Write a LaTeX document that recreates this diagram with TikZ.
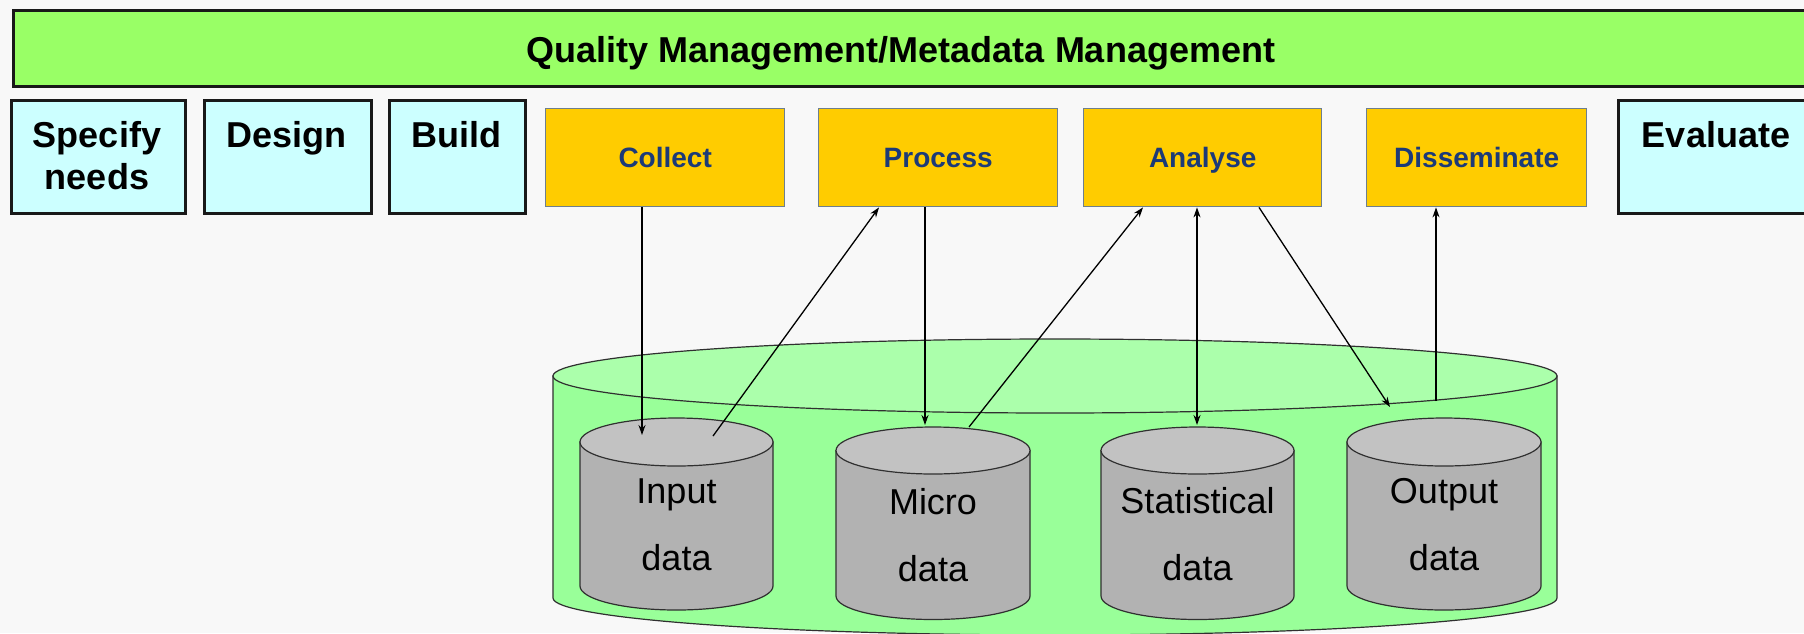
\documentclass[tikz,border=0pt]{standalone}
\usepackage{fontspec}
\setmainfont{Liberation Sans}
\usetikzlibrary{arrows.meta,calc}

\definecolor{pagebg}{HTML}{F8F8F8}
\definecolor{qmgreen}{HTML}{99FF66}
\definecolor{phasecyan}{HTML}{CCFFFF}
\definecolor{phaseyellow}{HTML}{FFCC00}
\definecolor{phaseframe}{HTML}{6E7F8E}
\definecolor{phasetext}{HTML}{1C3A78}
\definecolor{storeside}{HTML}{99FF99}
\definecolor{storetop}{HTML}{ABFFAB}
\definecolor{drumside}{HTML}{B2B2B2}
\definecolor{drumtop}{HTML}{C2C2C2}
\definecolor{drumline}{HTML}{303030}

\tikzset{
  cyanbox/.style={draw=black!90, line width=2.7pt, fill=phasecyan,
    anchor=north west, inner sep=0pt},
  yellowbox/.style={draw=phaseframe, line width=1.4pt, fill=phaseyellow,
    anchor=north west, inner sep=0pt, text=phasetext, text depth=0pt,
    font=\bfseries\fontsize{28}{33}\selectfont},
  boldlabel/.style={inner sep=0pt, align=center,
    font=\bfseries\fontsize{36}{42}\selectfont},
  drumlabel/.style={inner sep=0pt, align=center, anchor=north,
    font=\fontsize{36}{67}\selectfont},
  flow/.style={line width=1.3pt, -{Stealth[length=10pt,width=7pt]}},
  flowboth/.style={line width=1.3pt, {Stealth[length=10pt,width=7pt]}-{Stealth[length=10pt,width=7pt]}},
}

% a drum: centre x, top centre y, bottom centre y, x radius, y radius, side colour, top colour, line width
\newcommand\drawdrum[8]{%
  \filldraw[fill=#6, draw=drumline, line width=#8]
    (#1-#4,#2) -- (#1-#4,#3)
    arc[start angle=180, end angle=0, x radius=#4, y radius=#5]
    -- (#1+#4,#2) -- cycle;
  \filldraw[fill=#7, draw=drumline, line width=#8]
    (#1,#2) ellipse[x radius=#4, y radius=#5];
}

\begin{document}
\begin{tikzpicture}[x=1pt, y=-1pt]
  \useasboundingbox (0,0) rectangle (1804,633);
  \fill[pagebg] (0,0) rectangle (1804,633);
  \clip (0,0) rectangle (1804,633);

  % quality / metadata management bar
  \node[draw=black!90, line width=2.8pt, fill=qmgreen, anchor=north west,
        minimum width=1806pt, minimum height=76pt, inner sep=0pt] (qm) at (12,9) {};
  \node[boldlabel, anchor=base] (qm-t) at (901,62) {Quality Management/Metadata Management};

  % phases outside the data store
  \node[cyanbox, minimum width=174pt, minimum height=113pt] (spec) at (10,99) {};
  \node[boldlabel, anchor=north] (spec-t) at (97,121) {Specify\\needs};
  \node[cyanbox, minimum width=167pt, minimum height=113pt] (design) at (203,99) {};
  \node[boldlabel, anchor=north] (design-t) at (286.5,121) {Design};
  \node[cyanbox, minimum width=136pt, minimum height=113pt] (build) at (388,99) {};
  \node[boldlabel, anchor=north] (build-t) at (456,121) {Build};
  \node[cyanbox, minimum width=200pt, minimum height=113pt] (evaluate) at (1617,99) {};
  \node[boldlabel, anchor=north] (evaluate-t) at (1716,121) {Evaluate};

  % phases that work on the data store
  \node[yellowbox, minimum width=239pt, minimum height=98pt] (collect) at (545,108) {Collect};
  \node[yellowbox, minimum width=239pt, minimum height=98pt] (process) at (818,108) {Process};
  \node[yellowbox, minimum width=238pt, minimum height=98pt] (analyse) at (1083,108) {Analyse};
  \node[yellowbox, minimum width=220pt, minimum height=98pt] (dissem) at (1366,108) {Disseminate};

  % the data store
  \drawdrum{1055}{376}{598}{502}{37}{storeside}{storetop}{1.2pt}

  % the four databases
  \drawdrum{676.5}{442}{586}{96.5}{24}{drumside}{drumtop}{1.2pt}
  \drawdrum{933}{450.5}{596}{97}{23.5}{drumside}{drumtop}{1.2pt}
  \drawdrum{1197.5}{450.5}{596}{96.5}{23.5}{drumside}{drumtop}{1.2pt}
  \drawdrum{1444}{442}{586}{97}{24}{drumside}{drumtop}{1.2pt}

  \node[drumlabel] (input) at (676.5,479) {Input\\data};
  \node[drumlabel] (micro) at (933,488) {Micro\\data};
  \node[drumlabel] (stat) at (1197.5,487) {Statistical\\data};
  \node[drumlabel] (output) at (1444,478) {Output\\data};

  % connector ends on the databases
  \coordinate (in-a) at (642,435);
  \coordinate (in-b) at (713,436);
  \coordinate (mi-a) at (925,425);
  \coordinate (mi-b) at (969,427);
  \coordinate (st-a) at (1197,425);
  \coordinate (out-a) at (1390,407);
  \coordinate (out-b) at (1436,401);

  % data flows
  \draw[flow] (collect.south -| in-a) -- (in-a);
  \draw[flow] (in-b) -- ([xshift=61pt]process.south west);
  \draw[flow] (process.south -| mi-a) -- (mi-a);
  \draw[flow] (mi-b) -- ([xshift=60pt]analyse.south west);
  \draw[flowboth] (analyse.south -| st-a) -- (st-a);
  \draw[flow] ([xshift=176pt]analyse.south west) -- (out-a);
  \draw[flow] (out-b) -- (dissem.south -| out-b);
\end{tikzpicture}
\end{document}
